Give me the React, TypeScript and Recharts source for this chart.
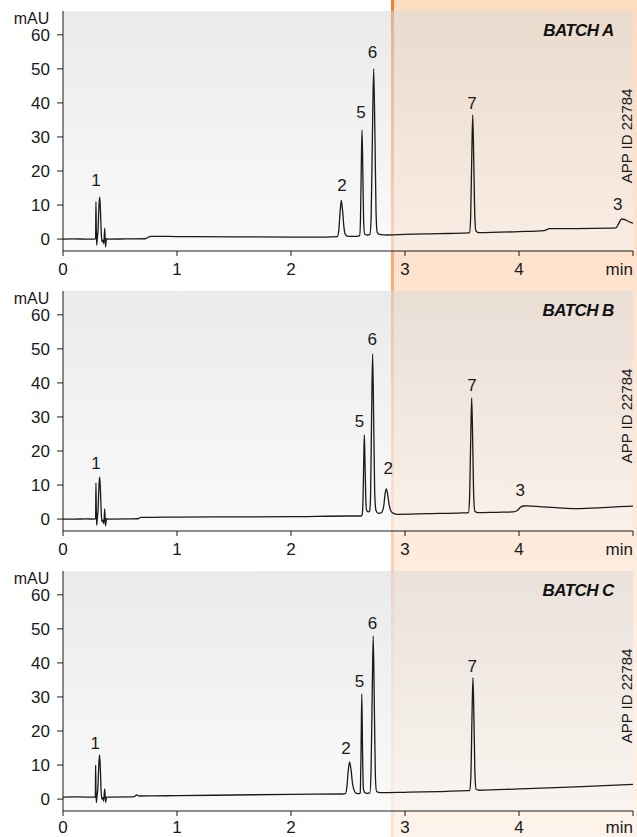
import React from "react";
import {
  ComposedChart,
  Line,
  Scatter,
  XAxis,
  YAxis,
  ReferenceArea,
  ReferenceDot,
} from "recharts";

type Row = [number, number];

// axes
const X_TICKS = [0, 1, 2, 3, 4, 5];
const Y_TICKS = [0, 10, 20, 30, 40, 50, 60];
const X_DOMAIN: [number, number] = [0, 5];
const Y_DOMAIN: [number, number] = [-3.5, 67];
const X_UNIT = "min";
const Y_UNIT = "mAU";

// highlighted region starts here (min)
const HIGHLIGHT_FROM = 2.877;

const BATCH_NAMES = ["BATCH A", "BATCH B", "BATCH C"];
const APP_ID = "APP ID 22784";
const BATCH_AT: Row = [4.83, 61.5];
const APP_ID_AT: Row = [4.947, 30.3];

// chromatogram traces, [time (min), signal (mAU)]
const TRACE_A: Row[] = [
  [0, 0], [0.1, 0.05], [0.2, 0], [0.28, 0], [0.286, 0.3], [0.289, 11], [0.292, 3],
  [0.295, -1.8], [0.301, 0.2], [0.308, 3], [0.315, 9.5], [0.322, 12.4], [0.329, 8],
  [0.336, 1.5], [0.343, -0.8], [0.352, -0.3], [0.358, -1.4], [0.366, 3.2], [0.373, -2.3],
  [0.381, 0.1], [0.4, 0], [0.55, 0.05], [0.72, 0.1], [0.745, 0.5], [0.77, 0.8], [1.0, 0.75],
  [1.5, 0.65], [2.0, 0.6], [2.3, 0.6], [2.405, 0.7], [2.418, 2.2], [2.43, 7.6], [2.441, 11.4],
  [2.452, 8.5], [2.464, 3.6], [2.478, 1.3], [2.5, 0.8], [2.58, 0.8], [2.602, 1], [2.609, 5],
  [2.616, 20], [2.623, 32], [2.63, 20], [2.637, 5.5], [2.646, 1.5], [2.67, 1.2], [2.692, 1.4],
  [2.703, 6.5], [2.714, 30], [2.725, 50], [2.736, 31], [2.746, 8], [2.756, 2], [2.775, 1.4],
  [2.85, 1.2], [3.0, 1.4], [3.3, 1.6], [3.55, 1.8], [3.566, 1.9], [3.576, 6.5], [3.585, 23],
  [3.594, 36.5], [3.603, 23], [3.612, 7], [3.622, 2.4], [3.645, 1.9], [4.0, 2.2], [4.22, 2.5],
  [4.245, 2.8], [4.265, 3.1], [4.5, 3.1], [4.8, 3.2], [4.85, 3.3], [4.875, 4.6], [4.9, 5.9],
  [4.93, 5.7], [4.965, 5.1], [5.0, 4.7],
];

const TRACE_B: Row[] = [
  [0, 0], [0.1, 0], [0.2, 0.05], [0.28, 0], [0.286, 0.3], [0.289, 10.6], [0.292, 3],
  [0.295, -1.8], [0.301, 0.2], [0.308, 3], [0.315, 9.5], [0.322, 12.4], [0.329, 8],
  [0.336, 1.5], [0.343, -0.8], [0.352, -0.3], [0.358, -1.4], [0.366, 3], [0.373, -2],
  [0.381, 0.1], [0.4, 0], [0.6, 0.05], [0.66, 0.1], [0.68, 0.5], [0.72, 0.5], [1.0, 0.6],
  [1.5, 0.65], [2.0, 0.7], [2.5, 0.9], [2.615, 0.9], [2.624, 1.3], [2.632, 6], [2.638, 17],
  [2.643, 24.7], [2.649, 17], [2.656, 6], [2.664, 2.5], [2.68, 2.1], [2.69, 2.4], [2.698, 7],
  [2.707, 30], [2.716, 48.5], [2.725, 30], [2.734, 8], [2.745, 2.6], [2.765, 1.7], [2.79, 1.8],
  [2.812, 3.5], [2.826, 7.5], [2.836, 8.9], [2.848, 7.2], [2.862, 4], [2.88, 2.2], [2.905, 1.6],
  [2.93, 1.4], [3.2, 1.6], [3.5, 1.8], [3.556, 1.9], [3.566, 6], [3.576, 22.5], [3.585, 35.6],
  [3.594, 22.5], [3.603, 6.5], [3.613, 2.3], [3.64, 1.9], [3.8, 2.0], [3.95, 2.1], [3.985, 2.5],
  [4.01, 3.4], [4.035, 3.85], [4.07, 3.9], [4.2, 3.6], [4.35, 3.3], [4.5, 3.1], [4.7, 3.3],
  [4.85, 3.6], [5.0, 3.8],
];

const TRACE_C: Row[] = [
  [0, 0.6], [0.1, 0.65], [0.2, 0.6], [0.28, 0.6], [0.284, 0.9], [0.286, 10], [0.289, 3],
  [0.292, -1], [0.298, 0.6], [0.306, 3.5], [0.314, 10], [0.321, 13], [0.328, 8.5], [0.335, 1.8],
  [0.342, 0], [0.35, 0.4], [0.356, -0.6], [0.366, 3], [0.374, -1], [0.382, 0.6], [0.4, 0.6],
  [0.6, 0.65], [0.625, 0.7], [0.645, 1.2], [0.67, 0.9], [0.8, 0.95], [1.0, 1.0], [1.5, 1.2],
  [2.0, 1.4], [2.45, 1.5], [2.478, 1.6], [2.49, 3.5], [2.502, 8.3], [2.514, 10.9], [2.526, 8.8],
  [2.54, 4.5], [2.556, 2.4], [2.575, 1.7], [2.6, 1.6], [2.607, 1.8], [2.614, 13], [2.621, 30.9],
  [2.628, 13], [2.635, 3], [2.65, 1.8], [2.668, 1.7], [2.692, 1.8], [2.702, 8], [2.712, 30],
  [2.721, 47.9], [2.73, 30], [2.74, 7], [2.75, 2.3], [2.78, 1.9], [3.0, 2.0], [3.3, 2.2],
  [3.55, 2.5], [3.568, 2.5], [3.578, 6.8], [3.587, 23], [3.596, 35.7], [3.605, 23], [3.614, 7],
  [3.624, 2.9], [3.65, 2.6], [4.0, 3.0], [4.5, 3.6], [5.0, 4.3],
];

// peak numbers, placed above each peak: [id, time, level]
const PEAKS_A: [string, number, number][] = [
  ["1", 0.29, 17.4], ["2", 2.447, 15.9], ["5", 2.614, 37.4],
  ["6", 2.715, 54.9], ["7", 3.588, 40.1], ["3", 4.865, 10.3],
];
const PEAKS_B: [string, number, number][] = [
  ["1", 0.29, 16.6], ["5", 2.6, 28.9], ["6", 2.713, 52.9],
  ["2", 2.854, 15], ["7", 3.588, 39.4], ["3", 4.01, 8.5],
];
const PEAKS_C: [string, number, number][] = [
  ["1", 0.282, 16.6], ["2", 2.482, 14.9], ["5", 2.6, 34.7],
  ["6", 2.714, 51.9], ["7", 3.589, 39.2],
];

const TRACES = [TRACE_A, TRACE_B, TRACE_C];
const PEAKS = [PEAKS_A, PEAKS_B, PEAKS_C];

const W = 637;
const PAGE_H = 837;
const PANEL_H = [280, 280, 277];
const PLOT_TOP = 11;
const PLOT_H = 240;
const FONT = '"Liberation Sans", Arial, Helvetica, sans-serif';
const INK = "#1a1a1a";

const XTick = (props: any) => {
  const { x, y, payload } = props;
  const last = payload.value === X_TICKS[X_TICKS.length - 1];
  return (
    <text
      x={x}
      y={y}
      dy="0.71em"
      textAnchor={last ? "end" : "middle"}
      fill={INK}
      fontSize={17}
      fontFamily={FONT}
    >
      {last ? X_UNIT : payload.value}
    </text>
  );
};

const renderPeakLabel = (p: any) => (
  <text
    x={p.cx}
    y={p.cy}
    dy="0.36em"
    textAnchor="middle"
    fill={INK}
    fontSize={17}
    fontFamily={FONT}
  >
    {p.payload.id}
  </text>
);

const Panel = ({ index }: { index: number }) => {
  const h = PANEL_H[index];
  const top = PANEL_H.slice(0, index).reduce((a, b) => a + b, 0);
  const last = index === PANEL_H.length - 1;
  const trace = TRACES[index].map(([t, y]) => ({ t, y }));
  const peaks = PEAKS[index].map(([id, t, y]) => ({ id, t, y }));

  const renderBand = (p: any) => (
    <g>
      <defs>
        <linearGradient
          id={`band-fill-${index}`}
          gradientUnits="userSpaceOnUse"
          x1="0"
          y1={-top}
          x2="0"
          y2={PAGE_H - top}
        >
          <stop offset="0" stopColor="#fddcc0" />
          <stop offset="1" stopColor="#fef3ea" />
        </linearGradient>
        <linearGradient
          id={`band-edge-${index}`}
          gradientUnits="userSpaceOnUse"
          x1="0"
          y1={-top}
          x2="0"
          y2={PAGE_H - top}
        >
          <stop offset="0" stopColor="#f2822c" />
          <stop offset="0.35" stopColor="#f6b080" />
          <stop offset="0.7" stopColor="#fbd4b6" />
          <stop offset="1" stopColor="#fde4d0" />
        </linearGradient>
        <linearGradient id={`plot-bg-${index}`} x1="0" y1="0" x2="0" y2="1">
          <stop offset="0" stopColor="#d9d9d9" stopOpacity={0.55} />
          <stop offset="1" stopColor="#f6f6f6" stopOpacity={0.55} />
        </linearGradient>
      </defs>
      <rect x={p.x} y={0} width={W - p.x} height={h} fill={`url(#band-fill-${index})`} />
      <rect x={p.x} y={0} width={3} height={h} fill={`url(#band-edge-${index})`} />
    </g>
  );

  return (
    <ComposedChart
      width={W}
      height={h}
      margin={{ top: PLOT_TOP, right: 4, bottom: 0, left: 0 }}
    >
      <ReferenceArea
        x1={HIGHLIGHT_FROM}
        x2={X_DOMAIN[1]}
        y1={Y_DOMAIN[0]}
        y2={Y_DOMAIN[1]}
        ifOverflow="visible"
        shape={renderBand}
      />
      <ReferenceArea
        x1={X_DOMAIN[0]}
        x2={X_DOMAIN[1]}
        y1={Y_DOMAIN[0]}
        y2={Y_DOMAIN[1]}
        ifOverflow="visible"
        fill={`url(#plot-bg-${index})`}
        fillOpacity={1}
        stroke="none"
      />
      <Line
        data={trace}
        dataKey="y"
        type="monotone"
        stroke={INK}
        strokeWidth={1.3}
        dot={false}
        activeDot={false}
        isAnimationActive={false}
      />
      <Scatter
        data={peaks}
        dataKey="y"
        shape={renderPeakLabel}
        isAnimationActive={false}
      />
      <ReferenceDot
        x={BATCH_AT[0]}
        y={BATCH_AT[1]}
        ifOverflow="visible"
        shape={(p: any) => (
          <text
            x={p.cx}
            y={p.cy}
            dy="0.36em"
            textAnchor="end"
            fill="#111"
            fontSize={17}
            fontWeight="bold"
            fontStyle="italic"
            letterSpacing={-0.6}
            fontFamily={FONT}
          >
            {BATCH_NAMES[index]}
          </text>
        )}
      />
      <ReferenceDot
        x={APP_ID_AT[0]}
        y={APP_ID_AT[1]}
        ifOverflow="visible"
        shape={(p: any) => (
          <text
            x={p.cx}
            y={p.cy}
            dy="0.36em"
            textAnchor="middle"
            transform={`rotate(-90 ${p.cx} ${p.cy})`}
            fill={INK}
            fontSize={15}
            fontFamily={FONT}
          >
            {APP_ID}
          </text>
        )}
      />
      <XAxis
        type="number"
        dataKey="t"
        domain={X_DOMAIN}
        ticks={X_TICKS}
        interval={0}
        tick={<XTick />}
        tickSize={5}
        tickMargin={last ? 5 : 7}
        height={h - PLOT_TOP - PLOT_H}
        stroke={INK}
        allowDataOverflow
      />
      <YAxis
        type="number"
        dataKey="y"
        domain={Y_DOMAIN}
        ticks={Y_TICKS}
        interval={0}
        width={63}
        tickSize={6}
        tickMargin={7}
        stroke={INK}
        tick={{ fill: INK, fontSize: 17, fontFamily: FONT }}
        label={{
          value: Y_UNIT,
          position: "top",
          offset: -13,
          fill: INK,
          fontSize: 16,
          fontFamily: FONT,
        }}
        allowDataOverflow
      />
    </ComposedChart>
  );
};

export default function App() {
  return (
    <div
      style={{
        position: "absolute",
        left: 0,
        top: 0,
        width: W,
        height: PAGE_H,
        background: "#fff",
        overflow: "hidden",
      }}
    >
      {PANEL_H.map((_, i) => (
        <Panel key={i} index={i} />
      ))}
    </div>
  );
}
